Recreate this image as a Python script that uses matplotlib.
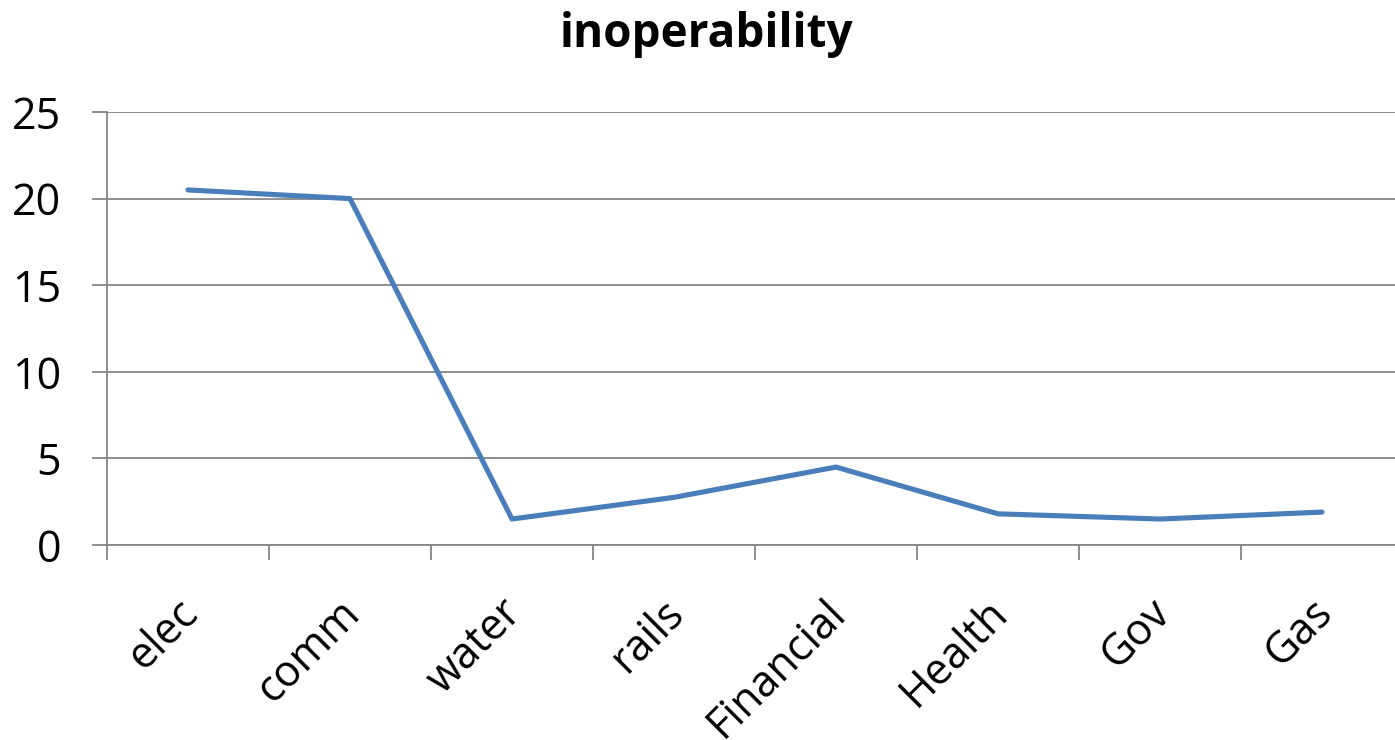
import matplotlib
matplotlib.use("Agg")
import matplotlib.pyplot as plt
from matplotlib.transforms import ScaledTranslation

categories = ["elec", "comm", "water", "rails", "Financial", "Health", "Gov", "Gas"]
values = [20.5, 20.0, 1.5, 2.75, 4.5, 1.8, 1.5, 1.9]
yticks = [0, 5, 10, 15, 20, 25]
title = "inoperability"

plt.rcParams['font.family'] = ['Open Sans', 'DejaVu Sans']

fig = plt.figure(figsize=(13.95, 7.40), dpi=100)
ax = fig.add_axes([107/1395, 1-545/740, 1296/1395, (545-112)/740])

x = list(range(len(categories)))
ax.plot(x, values, color="#4A7EBB", lw=3.7, solid_capstyle="round", solid_joinstyle="round", zorder=3)

ax.set_xlim(-0.5, len(categories) - 0.5)
ax.set_ylim(0, 25)
ax.set_yticks(yticks)
ax.set_yticklabels([str(t) for t in yticks], fontsize=31)
ax.yaxis.grid(True, color="#868686", lw=1.3)
ax.set_axisbelow(True)

ax.set_xticks([i - 0.5 for i in range(len(categories) + 1)])
ax.set_xticklabels([])
ax.set_xticks(x, minor=True)
ax.set_xticklabels(categories, minor=True, rotation=45, ha="right", va="top",
                   rotation_mode="anchor", fontsize=31)
ax.tick_params(axis="x", which="minor", length=0, pad=33)
ax.tick_params(axis="x", which="major", length=11, width=1.3, color="#868686")
ax.tick_params(axis="y", length=11, width=1.3, color="#868686", pad=22)

off = ScaledTranslation(-12/100, 0, fig.dpi_scale_trans)
for lab in ax.get_xticklabels(minor=True):
    lab.set_transform(lab.get_transform() + off)

for s in ["top", "right"]:
    ax.spines[s].set_visible(False)
for s in ["left", "bottom"]:
    ax.spines[s].set_color("#868686")
    ax.spines[s].set_linewidth(1.3)

fig.text(707/1395, 1-35/740, title, ha="center", va="center", fontsize=33, fontweight="bold")

fig.savefig("out.png", dpi=100)
